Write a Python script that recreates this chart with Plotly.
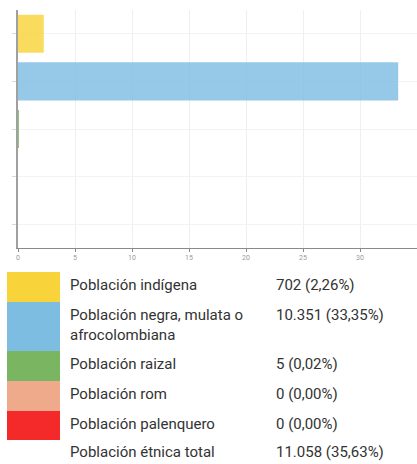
import plotly.graph_objects as go

categories = ["Población indígena", "Población negra, mulata o afrocolombiana",
              "Población raizal", "Población rom", "Población palenquero"]
legend_labels = ["Población indígena", "Población negra, mulata o<br>afrocolombiana",
                 "Población raizal", "Población rom", "Población palenquero"]
percent = [2.26, 33.35, 0.02, 0.0, 0.0]
value_labels = ["702 (2,26%)", "10.351 (33,35%)", "5 (0,02%)", "0 (0,00%)", "0 (0,00%)"]
total_label = "Población étnica total"
total_value = "11.058 (35,63%)"
colors = ["#F8D43A", "#7EBDE2", "#7AB662", "#EFAA8B", "#F42A2A"]
x_ticks = [0, 5, 10, 15, 20, 25, 30, 35]

W, H = 417, 464
T = 10
PH = H - T  # paper height in px


def px_x(x):
    return x / W


def px_y(y):
    return (H - y) / PH


fig = go.Figure()
fig.add_trace(go.Bar(
    y=categories, x=percent, orientation="h",
    marker=dict(color=colors, opacity=0.82, line=dict(width=0)),
    width=0.8, hoverinfo="skip", showlegend=False,
))

plot_bottom = 248
fig.update_layout(
    width=W, height=H,
    margin=dict(l=0, r=0, t=T, b=0),
    paper_bgcolor="white", plot_bgcolor="white",
    font=dict(family="Roboto", color="#333333"),
    xaxis=dict(
        domain=[px_x(18), 1.0], range=[0, 35], tickvals=x_ticks,
        ticktext=[str(v) for v in x_ticks],
        showgrid=True, gridcolor="#efefef", gridwidth=1,
        showline=True, linecolor="#8a8a8a", linewidth=1,
        ticks="outside", ticklen=3, tickcolor="#8a8a8a",
        tickfont=dict(size=7, color="#9a9a9a"), zeroline=False,
        anchor="y", automargin=False,
    ),
    yaxis=dict(
        domain=[px_y(plot_bottom), 1.0], autorange="reversed",
        showticklabels=False, showgrid=True, gridcolor="#f3f3f3",
        showline=True, linecolor="#a0a0a0", linewidth=2,
        ticks="outside", ticklen=4, tickcolor="#d8d8d8",
        automargin=False, layer="above traces",
    ),
    bargap=0.2,
)

# legend table
row_heights = [30, 49, 30, 30, 29, 28]
top = 272
shapes = []
annotations = []
y0 = top
labels_all = legend_labels + [total_label]
values_all = value_labels + [total_value]
for i, h in enumerate(row_heights):
    y1 = y0 + h
    if i < len(colors):
        shapes.append(dict(type="rect", xref="paper", yref="paper",
                           x0=px_x(7), x1=px_x(60), y0=px_y(y1), y1=px_y(y0),
                           fillcolor=colors[i], line=dict(width=0), layer="above"))
    cy = (y0 + y1) / 2 - 2
    annotations.append(dict(xref="paper", yref="paper", x=px_x(68), y=px_y(cy),
                            text=labels_all[i], showarrow=False, xanchor="left",
                            yanchor="middle", align="left",
                            font=dict(size=15, color="#333333", family="Roboto")))
    annotations.append(dict(xref="paper", yref="paper", x=px_x(274),
                            y=px_y(cy - (9.5 if i == 1 else 0)),
                            text=values_all[i], showarrow=False, xanchor="left",
                            yanchor="middle", align="left",
                            font=dict(size=15, color="#333333", family="Roboto")))
    y0 = y1

fig.update_layout(shapes=shapes, annotations=annotations)
fig.write_html("out.html", config={"displayModeBar": False},
               post_script="document.body.style.margin='0';document.body.style.overflow='hidden';")
